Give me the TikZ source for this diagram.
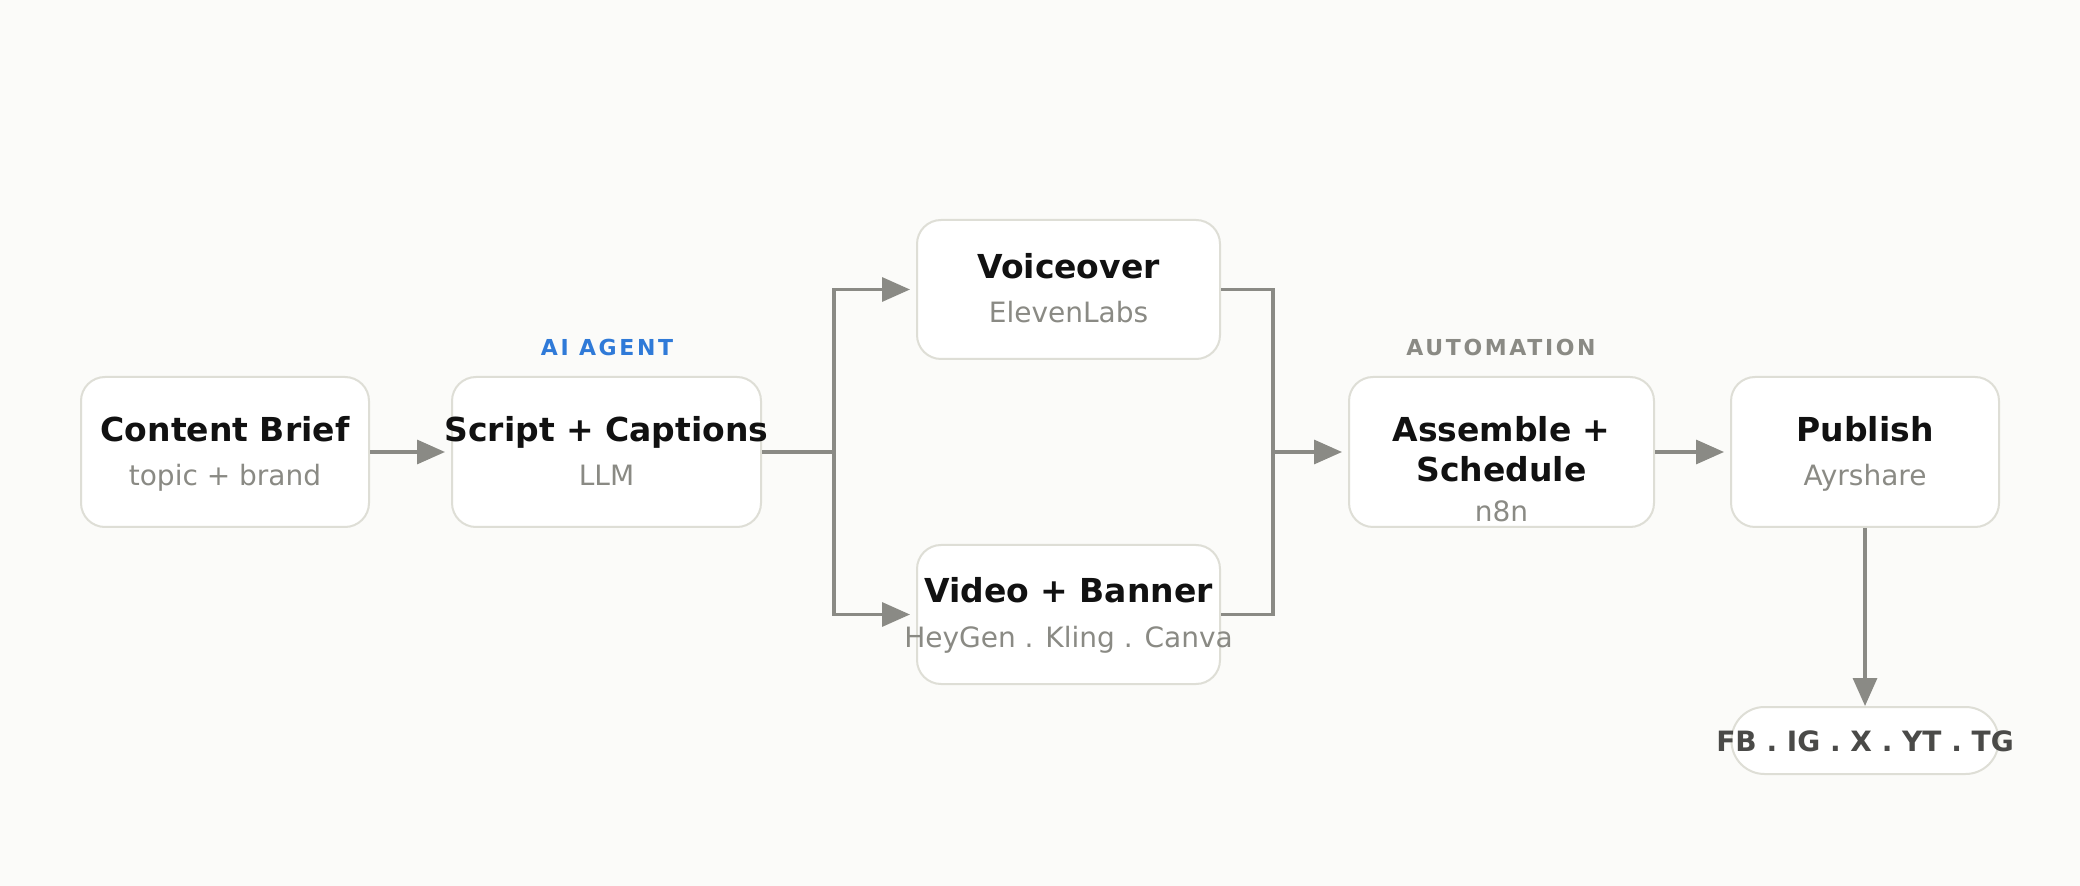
\documentclass[tikz,border=0pt]{standalone}
\usepackage{fontspec}
\setmainfont{DejaVu Sans}
\newfontfamily\trackedfont{DejaVu Sans}[LetterSpace=12]
\usetikzlibrary{arrows.meta}

\definecolor{bgcol}{HTML}{FBFBF9}
\definecolor{boxline}{HTML}{DEDED6}
\definecolor{titlecol}{HTML}{111111}
\definecolor{subcol}{HTML}{8A8A84}
\definecolor{linkcol}{HTML}{8A8A85}
\definecolor{agentblue}{HTML}{2F7AD8}
\definecolor{autogray}{HTML}{8A8A84}
\definecolor{chancol}{HTML}{4A4A48}

\tikzset{
  stage/.style={draw=boxline, fill=white, line width=1pt, rounded corners=12pt,
    inner sep=0pt, minimum height=75pt},
  pill/.style={draw=boxline, fill=white, line width=1pt, rounded corners=16.5pt,
    inner sep=0pt, minimum height=33.5pt},
  ttl/.style={anchor=base, inner sep=0pt, text=titlecol,
    font=\fontsize{16.5pt}{20pt}\selectfont\bfseries},
  sub/.style={anchor=base, inner sep=0pt, text=subcol,
    font=\fontsize{14pt}{17pt}\selectfont},
  tag/.style={anchor=base, inner sep=0pt,
    font=\fontsize{11pt}{13pt}\selectfont\trackedfont\bfseries},
  link/.style={draw=linkcol, line width=1.65pt},
  arrowlink/.style={link, -{Triangle[length=14pt,width=12pt]}, shorten >=3pt},
}

\begin{document}
\begin{tikzpicture}[x=0.5pt, y=-0.5pt]
  % canvas
  \fill[bgcol] (0,0) rectangle (2080,886);
  \useasboundingbox (0,0) rectangle (2080,886);

  % stage boxes
  \node[stage, minimum width=144pt]   (brief)    at (225,452)    {};
  \node[stage, minimum width=154.5pt] (script)   at (606.5,452)  {};
  \node[stage, minimum width=151.5pt, minimum height=69.5pt] (voice) at (1068.5,289.5) {};
  \node[stage, minimum width=151.5pt, minimum height=69.5pt] (video) at (1068.5,614.5) {};
  \node[stage, minimum width=152.5pt] (assemble) at (1501.5,452)  {};
  \node[stage, minimum width=134pt]   (publish)  at (1865,452)    {};
  \node[pill,  minimum width=133.5pt] (channels) at (1865,740.5)  {};

  % box texts
  \node[ttl] (briefT)  at (225,442)    {Content Brief};
  \node[sub] (briefS)  at (225,486)    {topic + brand};
  \node[ttl] (scriptT) at (606.5,442)  {Script + Captions};
  \node[sub] (scriptS) at (606.5,486)  {LLM};
  \node[ttl] (voiceT)  at (1068.5,279) {Voiceover};
  \node[sub] (voiceS)  at (1068.5,323) {ElevenLabs};
  \node[ttl] (videoT)  at (1068.5,603) {Video + Banner};
  \node[sub] (videoS)  at (1068.5,647) {HeyGen . Kling . Canva};
  \node[ttl] (asmT1)   at (1501.5,442) {Assemble +};
  \node[ttl] (asmT2)   at (1501.5,482) {Schedule};
  \node[sub] (asmS)    at (1501.5,522) {n8n};
  \node[ttl] (pubT)    at (1865,442)   {Publish};
  \node[sub] (pubS)    at (1865,486)   {Ayrshare};
  \node[anchor=base, inner sep=0pt, text=chancol,
        font=\fontsize{14pt}{17pt}\selectfont\bfseries] (chanT) at (1865,751)
        {FB . IG . X . YT . TG};

  % group tags
  \node[tag, text=agentblue] (agentTag) at (607,356)  {AI AGENT};
  \node[tag, text=autogray]  (autoTag)  at (1501,356) {AUTOMATION};

  % junctions
  \coordinate (split) at (834,452);
  \coordinate (merge) at (1273,452);

  % connectors
  \draw[arrowlink] (brief.east) -- (script.west);
  \draw[link] (script.east) -- (split);
  \draw[arrowlink] (split) |- (voice.west);
  \draw[arrowlink] (split) |- (video.west);
  \draw[link] (voice.east) -| (merge);
  \draw[link] (video.east) -| (merge);
  \draw[arrowlink] (merge) -- (assemble.west);
  \draw[arrowlink] (assemble.east) -- (publish.west);
  \draw[arrowlink, shorten >=0pt] (publish.south) -- (channels.north);
\end{tikzpicture}
\end{document}
